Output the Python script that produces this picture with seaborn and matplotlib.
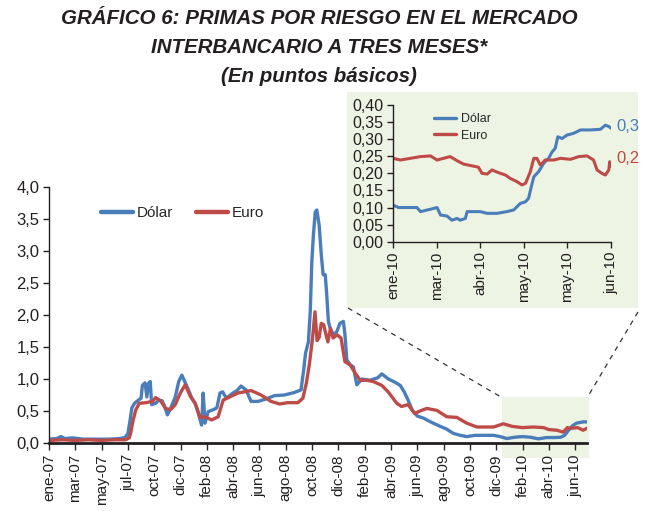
import numpy as np
import pandas as pd
import matplotlib
matplotlib.use("Agg")
import matplotlib.pyplot as plt
from matplotlib.patches import Rectangle
from matplotlib.lines import Line2D
from matplotlib.ticker import FuncFormatter
import seaborn as sns

# ---------------- data ----------------
title_lines = ["GRÁFICO 6: PRIMAS POR RIESGO EN EL MERCADO",
               "INTERBANCARIO A TRES MESES*",
               "(En puntos básicos)"]

main_xlabels = ["ene-07", "mar-07", "may-07", "jul-07", "oct-07", "dic-07", "feb-08",
                "abr-08", "jun-08", "ago-08", "oct-08", "dic-08", "feb-09", "abr-09",
                "jun-09", "ago-09", "oct-09", "dic-09", "feb-10", "abr-10", "jun-10"]
inset_xlabels = ["ene-10", "mar-10", "abr-10", "may-10", "may-10", "jun-10"]

# position on the time axis (in tick periods) and value, Dólar
t_dolar = [0.0, 0.3, 0.45, 0.6, 0.9, 1.3, 1.8, 2.3, 2.7, 2.9,
           3.0, 3.08, 3.15, 3.25, 3.4, 3.5, 3.55, 3.65, 3.72, 3.78,
           3.85, 3.9, 4.05, 4.18, 4.3, 4.4, 4.5, 4.62, 4.8, 4.93,
           5.05, 5.17, 5.3, 5.43, 5.55, 5.68, 5.8, 5.86, 5.93, 6.05,
           6.24, 6.38, 6.5, 6.6, 6.74, 6.99, 7.15, 7.3, 7.49, 7.68,
           7.94, 8.19, 8.57, 8.95, 9.33, 9.58, 9.68, 9.75, 9.86, 9.93,
           9.99, 10.05, 10.12, 10.18, 10.27, 10.35, 10.42, 10.5, 10.56, 10.62,
           10.69, 10.81, 10.94, 11.06, 11.19, 11.25, 11.32, 11.45, 11.57, 11.7,
           11.9, 12.2, 12.5, 12.65, 12.9, 13.15, 13.35, 13.5, 13.65, 13.8,
           14.0, 14.23, 14.5, 14.87, 15.1, 15.37, 15.63, 15.88, 16.2, 16.6,
           16.9, 17.15, 17.4, 17.7, 18.0, 18.3, 18.6, 18.9, 19.2, 19.45,
           19.6, 19.75, 19.9, 20.05, 20.3, 20.5]
v_dolar = [0.06, 0.07, 0.10, 0.07, 0.08, 0.06, 0.06, 0.06, 0.07, 0.09,
           0.15, 0.35, 0.55, 0.62, 0.67, 0.70, 0.90, 0.94, 0.72, 0.93,
           0.96, 0.60, 0.62, 0.67, 0.66, 0.57, 0.44, 0.54, 0.72, 0.96,
           1.06, 0.95, 0.83, 0.70, 0.62, 0.46, 0.28, 0.78, 0.31, 0.49,
           0.52, 0.55, 0.78, 0.80, 0.70, 0.78, 0.82, 0.89, 0.83, 0.65,
           0.65, 0.68, 0.74, 0.75, 0.79, 0.83, 1.14, 1.40, 1.58, 2.05,
           2.83, 3.25, 3.61, 3.64, 3.40, 2.94, 2.63, 2.63, 2.30, 1.90,
           1.79, 1.69, 1.74, 1.87, 1.90, 1.69, 1.30, 1.22, 1.19, 0.91,
           1.00, 0.98, 1.02, 1.08, 1.00, 0.95, 0.90, 0.80, 0.67, 0.52,
           0.42, 0.39, 0.33, 0.26, 0.22, 0.15, 0.12, 0.10, 0.12, 0.12,
           0.12, 0.10, 0.07, 0.09, 0.10, 0.09, 0.065, 0.085, 0.085, 0.09,
           0.12, 0.20, 0.27, 0.31, 0.33, 0.33]

# Euro
t_euro = [0.0, 0.5, 1.0, 1.5, 2.0, 2.5, 2.9, 3.05, 3.1, 3.2,
          3.3, 3.43, 3.68, 3.94, 4.05, 4.24, 4.43, 4.62, 4.8, 4.99,
          5.18, 5.37, 5.56, 5.74, 5.93, 6.18, 6.43, 6.62, 6.87, 7.18,
          7.43, 7.68, 8.06, 8.44, 8.76, 9.08, 9.46, 9.65, 9.78, 9.9,
          10.02, 10.11, 10.19, 10.27, 10.35, 10.44, 10.5, 10.6, 10.7, 10.8,
          10.95, 11.1, 11.25, 11.45, 11.64, 11.83, 12.08, 12.33, 12.65, 12.89,
          13.22, 13.4, 13.65, 13.9, 14.1, 14.36, 14.74, 15.12, 15.5, 15.88,
          16.26, 16.9, 17.27, 17.6, 18.0, 18.4, 18.8, 19.0, 19.3, 19.55,
          19.7, 19.85, 20.1, 20.3, 20.45, 20.5]
v_euro = [0.04, 0.05, 0.04, 0.05, 0.04, 0.05, 0.05, 0.08, 0.15, 0.36,
          0.52, 0.62, 0.63, 0.65, 0.71, 0.66, 0.54, 0.52, 0.60, 0.78,
          0.91, 0.73, 0.62, 0.40, 0.41, 0.36, 0.41, 0.67, 0.72, 0.78,
          0.80, 0.82, 0.75, 0.65, 0.61, 0.63, 0.63, 0.70, 0.93, 1.24,
          1.65, 2.05, 1.60, 1.65, 1.87, 1.85, 1.74, 1.58, 1.79, 1.64,
          1.69, 1.64, 1.27, 1.22, 1.09, 0.98, 0.98, 0.96, 0.90, 0.80,
          0.62, 0.57, 0.60, 0.46, 0.50, 0.54, 0.51, 0.41, 0.40, 0.31,
          0.25, 0.25, 0.30, 0.26, 0.24, 0.25, 0.24, 0.21, 0.20, 0.17,
          0.24, 0.23, 0.24, 0.20, 0.23, 0.22]

# inset (2010) – position in inset tick periods
s_dolar = [0.0, 0.13, 0.32, 0.55, 0.63, 0.86, 1.01, 1.09, 1.24, 1.35,
           1.47, 1.54, 1.66, 1.70, 1.85, 2.0, 2.16, 2.39, 2.61, 2.77,
           2.92, 3.04, 3.11, 3.17, 3.23, 3.34, 3.46, 3.57, 3.65, 3.72,
           3.78, 3.88, 3.99, 4.14, 4.30, 4.53, 4.76, 4.87, 4.95, 5.0]
w_dolar = [0.107, 0.100, 0.100, 0.100, 0.088, 0.095, 0.100, 0.078, 0.075, 0.063,
           0.068, 0.063, 0.068, 0.088, 0.088, 0.088, 0.083, 0.083, 0.088, 0.093,
           0.112, 0.117, 0.127, 0.160, 0.190, 0.205, 0.230, 0.244, 0.263, 0.273,
           0.307, 0.302, 0.312, 0.317, 0.327, 0.327, 0.329, 0.341, 0.337, 0.332]
s_euro = [0.0, 0.17, 0.40, 0.63, 0.86, 1.01, 1.16, 1.31, 1.47, 1.62,
          1.85, 1.96, 2.04, 2.16, 2.27, 2.42, 2.58, 2.69, 2.84, 2.96,
          3.04, 3.15, 3.23, 3.30, 3.38, 3.49, 3.69, 3.84, 4.07, 4.26,
          4.45, 4.60, 4.68, 4.79, 4.87, 4.95, 4.97, 5.0]
w_euro = [0.244, 0.239, 0.244, 0.249, 0.251, 0.239, 0.244, 0.249, 0.237, 0.227,
          0.221, 0.218, 0.200, 0.198, 0.210, 0.202, 0.195, 0.185, 0.176, 0.166,
          0.171, 0.205, 0.244, 0.244, 0.224, 0.239, 0.239, 0.244, 0.241, 0.249,
          0.251, 0.239, 0.210, 0.200, 0.195, 0.210, 0.234, 0.220]

series_names = ["Dólar", "Euro"]
colors = {"Dólar": "#4A7EBB", "Euro": "#BE4B48"}

# ---------------- style ----------------
sns.set_style("white")
plt.rcParams["font.family"] = ["Liberation Sans", "DejaVu Sans"]
plt.rcParams["axes.unicode_minus"] = False

W, H = 648, 511
fig = plt.figure(figsize=(W / 100, H / 100), dpi=100)
fig.patch.set_facecolor("white")

def fx(px):
    return px / W

def fy(py):
    return 1 - py / H

green = "#EEF4E3"
txtc = "#231F20"

# green backgrounds (behind everything)
fig.add_artist(Rectangle((fx(347), fy(308)), fx(638) - fx(347), fy(92) - fy(308),
                         transform=fig.transFigure, facecolor=green, edgecolor="none", zorder=-2))
fig.add_artist(Rectangle((fx(502), fy(458)), fx(589) - fx(502), fy(397) - fy(458),
                         transform=fig.transFigure, facecolor=green, edgecolor="none", zorder=-2))
# dashed connector lines
for (x1, y1, x2, y2) in [(348, 308, 501, 397), (638, 312, 587, 398)]:
    fig.add_artist(Line2D([fx(x1), fx(x2)], [fy(y1), fy(y2)], transform=fig.transFigure,
                          color="#333333", lw=0.9, ls=(0, (4, 4)), zorder=-1))

# title
for txt, yc in zip(title_lines, [18, 47, 76]):
    fig.text(fx(319), fy(yc), txt, ha="center", va="center", fontsize=14.8,
             fontweight="bold", fontstyle="italic", color=txtc)

comma = lambda fmt: FuncFormatter(lambda v, p: (fmt % v).replace(".", ","))

# ---------------- main axes ----------------
ax = fig.add_axes([fx(49), fy(443), fx(587) - fx(49), fy(187) - fy(443)])
ax.set_facecolor("none")
df_main = pd.concat([
    pd.DataFrame({"t": t_dolar, "v": v_dolar, "serie": "Dólar"}),
    pd.DataFrame({"t": t_euro, "v": v_euro, "serie": "Euro"}),
])
sns.lineplot(data=df_main, x="t", y="v", hue="serie", hue_order=series_names,
             palette=colors, linewidth=2.4, ax=ax, legend=False, estimator=None)
ax.set_xlim(0, 20.45)
ax.set_ylim(0, 4.0)
ax.set_xticks(range(len(main_xlabels)))
ax.set_xticklabels(main_xlabels, rotation=90, fontsize=11, color=txtc)
ax.set_yticks(np.arange(0, 4.01, 0.5))
ax.yaxis.set_major_formatter(comma("%.1f"))
ax.tick_params(axis="y", labelsize=12, length=4, width=1, direction="out",
               left=True, colors=txtc, pad=3)
ax.tick_params(axis="x", length=5, width=1, direction="out", bottom=True, pad=3)
ax.set_xlabel("")
ax.set_ylabel("")
for side in ["top", "right"]:
    ax.spines[side].set_visible(False)
ax.spines["left"].set_color(txtc)
ax.spines["left"].set_linewidth(1.0)
ax.spines["bottom"].set_color(txtc)
ax.spines["bottom"].set_linewidth(2.0)

handles = [Line2D([], [], color=colors[n], lw=3.2) for n in series_names]
ax.legend(handles, series_names, ncol=2, frameon=False, fontsize=11,
          handlelength=2.1, handletextpad=0.25, columnspacing=1.5,
          loc="center left", bbox_to_anchor=(fx(87), fy(213)),
          bbox_transform=fig.transFigure)

# ---------------- inset axes ----------------
axi = fig.add_axes([fx(393), fy(241.7), fx(611) - fx(393), fy(105) - fy(241.7)])
axi.set_facecolor("none")
df_in = pd.concat([
    pd.DataFrame({"s": s_dolar, "v": w_dolar, "serie": "Dólar"}),
    pd.DataFrame({"s": s_euro, "v": w_euro, "serie": "Euro"}),
])
sns.lineplot(data=df_in, x="s", y="v", hue="serie", hue_order=series_names,
             palette=colors, linewidth=2.2, ax=axi, legend=False, estimator=None)
axi.set_xlim(0, 5.0)
axi.set_ylim(0, 0.40)
axi.set_xticks(range(len(inset_xlabels)))
axi.set_xticklabels(inset_xlabels, rotation=90, fontsize=11, color=txtc)
axi.set_yticks(np.arange(0, 0.401, 0.05))
axi.yaxis.set_major_formatter(comma("%.2f"))
axi.tick_params(axis="y", labelsize=11.5, length=4, width=1, direction="out",
                left=True, colors=txtc, pad=3)
axi.tick_params(axis="x", length=4, width=1, direction="out", bottom=True, pad=3)
axi.set_xlabel("")
axi.set_ylabel("")
for side in ["top", "right"]:
    axi.spines[side].set_visible(False)
for side in ["left", "bottom"]:
    axi.spines[side].set_color(txtc)
    axi.spines[side].set_linewidth(1.0)

handles_i = [Line2D([], [], color=colors[n], lw=2.4) for n in series_names]
axi.legend(handles_i, series_names, ncol=1, frameon=False, fontsize=9,
           handlelength=1.75, handletextpad=0.35, labelspacing=0.35,
           loc="upper left", bbox_to_anchor=(fx(423), fy(102)),
           bbox_transform=fig.transFigure)

# end labels
axi.annotate(("%.1f" % w_dolar[-1]).replace(".", ","), xy=(s_dolar[-1], w_dolar[-1]),
             xytext=(4, 1), textcoords="offset points", ha="left", va="center",
             fontsize=12, color=colors["Dólar"], annotation_clip=False)
axi.annotate(("%.1f" % w_euro[-1]).replace(".", ","), xy=(s_euro[-1], w_euro[-1]),
             xytext=(4, 6), textcoords="offset points", ha="left", va="center",
             fontsize=12, color=colors["Euro"], annotation_clip=False)

fig.savefig("out.png", dpi=100, facecolor="white")
